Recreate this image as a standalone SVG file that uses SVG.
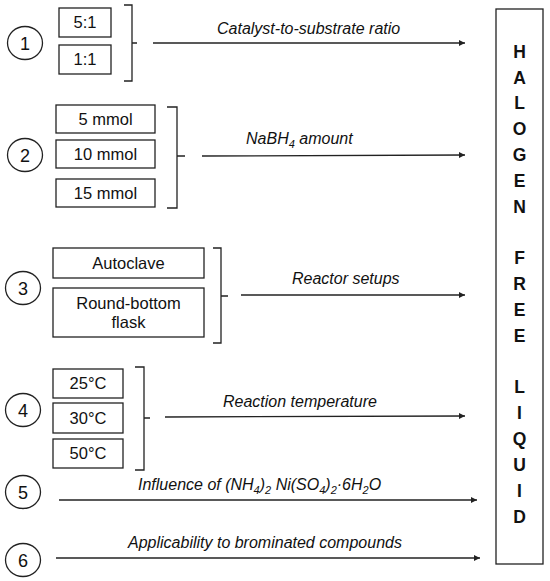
<svg xmlns="http://www.w3.org/2000/svg" width="550" height="581" viewBox="0 0 550 581">
<defs>
<marker id="ah" viewBox="0 0 10 10" refX="10" refY="5" markerWidth="8" markerHeight="6" markerUnits="userSpaceOnUse" orient="auto">
<path d="M0,0 L10,5 L0,10 z" fill="#222"/>
</marker>
<style>
.box{fill:#fff;stroke:#222;stroke-width:1.3}
.circ{fill:#fff;stroke:#222;stroke-width:1.3}
.br{fill:none;stroke:#222;stroke-width:1.3}
.arr{fill:none;stroke:#222;stroke-width:1.3;marker-end:url(#ah)}
.t{font-family:"Liberation Sans",Arial,sans-serif;font-size:16.5px;fill:#111;text-anchor:middle}
.num{font-family:"Liberation Sans",Arial,sans-serif;font-size:18px;fill:#111;text-anchor:middle}
.lbl{font-family:"Liberation Sans",Arial,sans-serif;font-size:16px;font-style:italic;fill:#111}
.big{font-family:"Liberation Sans",Arial,sans-serif;font-size:17.5px;font-weight:bold;fill:#111;text-anchor:middle}
.sub{font-size:11px}
</style>
</defs>
<rect width="550" height="581" fill="#fff"/>

<g id="connectors">
<path class="br" d="M124,5 H132 V81 H124 M132,43 H137"/>
<path class="br" d="M167,107 H177 V208 H167 M177,156 H185"/>
<path class="br" d="M213,248 H221 V343 H213 M221,296 H228"/>
<path class="br" d="M135,367 H144 V470 H135 M144,418 H150"/>
<line class="arr" x1="153" y1="43" x2="465" y2="43"/>
<line class="arr" x1="202" y1="156" x2="465" y2="155"/>
<line class="arr" x1="241" y1="295" x2="465" y2="295"/>
<line class="arr" x1="165" y1="417" x2="465" y2="416"/>
<line class="arr" x1="59" y1="500" x2="477" y2="500"/>
<line class="arr" x1="56" y1="558" x2="480" y2="558"/>
<text class="lbl" x="217" y="34">Catalyst-to-substrate ratio</text>
<text class="lbl" x="246" y="144">NaBH<tspan class="sub" dy="4">4</tspan><tspan dy="-4"> amount</tspan></text>
<text class="lbl" x="292" y="284">Reactor setups</text>
<text class="lbl" x="223" y="407">Reaction temperature</text>
<text class="lbl" x="138" y="490">Influence of (NH<tspan class="sub" dy="4">4</tspan><tspan dy="-4">)</tspan><tspan class="sub" dy="4">2</tspan><tspan dy="-4"> Ni(SO</tspan><tspan class="sub" dy="4">4</tspan><tspan dy="-4">)</tspan><tspan class="sub" dy="4">2</tspan><tspan dy="-4">·6H</tspan><tspan class="sub" dy="4">2</tspan><tspan dy="-4">O</tspan></text>
<text class="lbl" x="128" y="548">Applicability to brominated compounds</text>
</g>

<g id="n1"><ellipse class="circ" cx="25" cy="43" rx="17.5" ry="16.5"/><text class="num" x="25" y="49.5">1</text></g>
<g id="n2"><ellipse class="circ" cx="25" cy="155" rx="17.5" ry="16.5"/><text class="num" x="25" y="161.5">2</text></g>
<g id="n3"><ellipse class="circ" cx="23" cy="288" rx="17.5" ry="16.5"/><text class="num" x="23" y="294.5">3</text></g>
<g id="n4"><ellipse class="circ" cx="23" cy="410" rx="17.5" ry="16.5"/><text class="num" x="23" y="416.5">4</text></g>
<g id="n5"><ellipse class="circ" cx="23" cy="492" rx="17.5" ry="16.5"/><text class="num" x="23" y="498.5">5</text></g>
<g id="n6"><ellipse class="circ" cx="23" cy="560" rx="17.5" ry="16.5"/><text class="num" x="23" y="566.5">6</text></g>

<g id="b51"><rect class="box" x="59" y="8" width="52" height="29"/><text class="t" x="85" y="28">5:1</text></g>
<g id="b11"><rect class="box" x="59" y="45" width="52" height="29"/><text class="t" x="85" y="65">1:1</text></g>

<g id="b5mmol"><rect class="box" x="56" y="105" width="99" height="28"/><text class="t" x="105.5" y="125">5 mmol</text></g>
<g id="b10mmol"><rect class="box" x="56" y="140" width="99" height="28"/><text class="t" x="105.5" y="160">10 mmol</text></g>
<g id="b15mmol"><rect class="box" x="56" y="179" width="99" height="28"/><text class="t" x="105.5" y="199">15 mmol</text></g>

<g id="bauto"><rect class="box" x="53" y="248" width="151" height="30"/><text class="t" x="128.5" y="269">Autoclave</text></g>
<g id="bflask"><rect class="box" x="53" y="288" width="151" height="49"/><text class="t" x="128.5" y="309">Round-bottom</text><text class="t" x="128.5" y="328">flask</text></g>

<g id="b25"><rect class="box" x="53" y="369" width="70" height="29"/><text class="t" x="88" y="389">25°C</text></g>
<g id="b30"><rect class="box" x="53" y="403" width="70" height="30"/><text class="t" x="88" y="424">30°C</text></g>
<g id="b50"><rect class="box" x="53" y="439" width="70" height="29"/><text class="t" x="88" y="459">50°C</text></g>

<g id="result">
<rect class="box" x="496" y="9" width="47" height="555"/>
<text class="big" x="519.5" y="58">H</text>
<text class="big" x="519.5" y="84">A</text>
<text class="big" x="519.5" y="109">L</text>
<text class="big" x="519.5" y="135">O</text>
<text class="big" x="519.5" y="161">G</text>
<text class="big" x="519.5" y="187">E</text>
<text class="big" x="519.5" y="213">N</text>
<text class="big" x="519.5" y="264">F</text>
<text class="big" x="519.5" y="290">R</text>
<text class="big" x="519.5" y="316">E</text>
<text class="big" x="519.5" y="342">E</text>
<text class="big" x="519.5" y="393">L</text>
<text class="big" x="519.5" y="419">I</text>
<text class="big" x="519.5" y="445">Q</text>
<text class="big" x="519.5" y="471">U</text>
<text class="big" x="519.5" y="497">I</text>
<text class="big" x="519.5" y="523">D</text>
</g>
</svg>
